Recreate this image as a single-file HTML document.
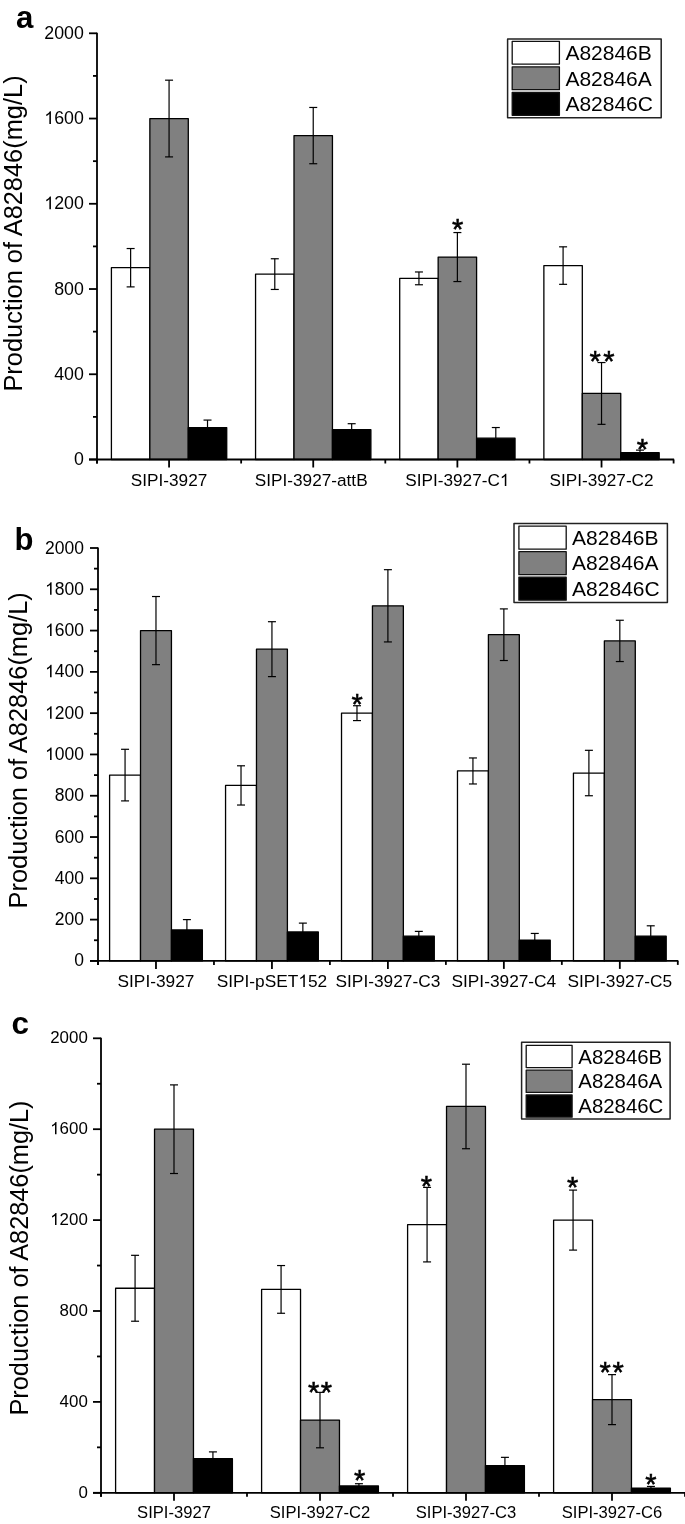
<!DOCTYPE html>
<html><head><meta charset="utf-8"><style>
html,body{margin:0;padding:0;background:#fff;}
body{width:685px;height:1524px;overflow:hidden;}
svg{display:block;}
svg{will-change:transform;}
text{font-family:"Liberation Sans", sans-serif;fill:#000;}
</style></head><body>
<svg width="685" height="1524" viewBox="0 0 685 1524">
<rect x="0" y="0" width="685" height="1524" fill="#fff"/>
<rect x="111.41" y="267.71" width="38.44" height="191.79" fill="#ffffff" stroke="#000" stroke-width="1.3" stroke-linejoin="round"/>
<rect x="149.85" y="118.54" width="38.44" height="340.96" fill="#808080" stroke="#000" stroke-width="1.3" stroke-linejoin="round"/>
<rect x="188.29" y="427.54" width="38.44" height="31.96" fill="#000000" stroke="#000" stroke-width="1.3" stroke-linejoin="round"/>
<line x1="130.63" y1="248.53" x2="130.63" y2="286.89" stroke="#000" stroke-width="1.2"/>
<line x1="126.63" y1="248.53" x2="134.63" y2="248.53" stroke="#000" stroke-width="1.2"/>
<line x1="126.63" y1="286.89" x2="134.63" y2="286.89" stroke="#000" stroke-width="1.2"/>
<line x1="169.07" y1="80.18" x2="169.07" y2="156.90" stroke="#000" stroke-width="1.2"/>
<line x1="165.07" y1="80.18" x2="173.07" y2="80.18" stroke="#000" stroke-width="1.2"/>
<line x1="165.07" y1="156.90" x2="173.07" y2="156.90" stroke="#000" stroke-width="1.2"/>
<line x1="207.51" y1="420.08" x2="207.51" y2="427.54" stroke="#000" stroke-width="1.2"/>
<line x1="203.51" y1="420.08" x2="211.51" y2="420.08" stroke="#000" stroke-width="1.2"/>
<text x="169.07" y="486.00" font-size="17.2" text-anchor="middle" font-weight="normal" >SIPI-3927</text>
<rect x="255.56" y="274.10" width="38.44" height="185.40" fill="#ffffff" stroke="#000" stroke-width="1.3" stroke-linejoin="round"/>
<rect x="294.00" y="135.59" width="38.44" height="323.91" fill="#808080" stroke="#000" stroke-width="1.3" stroke-linejoin="round"/>
<rect x="332.45" y="429.67" width="38.44" height="29.83" fill="#000000" stroke="#000" stroke-width="1.3" stroke-linejoin="round"/>
<line x1="274.79" y1="258.76" x2="274.79" y2="289.45" stroke="#000" stroke-width="1.2"/>
<line x1="270.79" y1="258.76" x2="278.79" y2="258.76" stroke="#000" stroke-width="1.2"/>
<line x1="270.79" y1="289.45" x2="278.79" y2="289.45" stroke="#000" stroke-width="1.2"/>
<line x1="313.23" y1="107.46" x2="313.23" y2="163.72" stroke="#000" stroke-width="1.2"/>
<line x1="309.23" y1="107.46" x2="317.23" y2="107.46" stroke="#000" stroke-width="1.2"/>
<line x1="309.23" y1="163.72" x2="317.23" y2="163.72" stroke="#000" stroke-width="1.2"/>
<line x1="351.67" y1="423.70" x2="351.67" y2="429.67" stroke="#000" stroke-width="1.2"/>
<line x1="347.67" y1="423.70" x2="355.67" y2="423.70" stroke="#000" stroke-width="1.2"/>
<text x="311.23" y="486.00" font-size="17.2" text-anchor="middle" font-weight="normal" >SIPI-3927-attB</text>
<rect x="399.71" y="278.37" width="38.44" height="181.13" fill="#ffffff" stroke="#000" stroke-width="1.3" stroke-linejoin="round"/>
<rect x="438.15" y="257.06" width="38.44" height="202.44" fill="#808080" stroke="#000" stroke-width="1.3" stroke-linejoin="round"/>
<rect x="476.60" y="438.19" width="38.44" height="21.31" fill="#000000" stroke="#000" stroke-width="1.3" stroke-linejoin="round"/>
<line x1="418.94" y1="271.97" x2="418.94" y2="284.76" stroke="#000" stroke-width="1.2"/>
<line x1="414.94" y1="271.97" x2="422.94" y2="271.97" stroke="#000" stroke-width="1.2"/>
<line x1="414.94" y1="284.76" x2="422.94" y2="284.76" stroke="#000" stroke-width="1.2"/>
<line x1="457.38" y1="232.55" x2="457.38" y2="281.56" stroke="#000" stroke-width="1.2"/>
<line x1="453.38" y1="232.55" x2="461.38" y2="232.55" stroke="#000" stroke-width="1.2"/>
<line x1="453.38" y1="281.56" x2="461.38" y2="281.56" stroke="#000" stroke-width="1.2"/>
<line x1="495.81" y1="427.54" x2="495.81" y2="438.19" stroke="#000" stroke-width="1.2"/>
<line x1="491.81" y1="427.54" x2="499.81" y2="427.54" stroke="#000" stroke-width="1.2"/>
<text x="457.38" y="486.00" font-size="17.2" text-anchor="middle" font-weight="normal" >SIPI-3927-C </text>
<path d="M763 0H583V1147Q518 1085 412 1023Q306 961 223 930V1104Q374 1175 487 1276Q600 1377 647 1466H763Z" transform="translate(499.91,486.00) scale(0.00840,-0.00840)" fill="#000"/>
<rect x="543.87" y="265.58" width="38.44" height="193.92" fill="#ffffff" stroke="#000" stroke-width="1.3" stroke-linejoin="round"/>
<rect x="582.31" y="393.44" width="38.44" height="66.06" fill="#808080" stroke="#000" stroke-width="1.3" stroke-linejoin="round"/>
<rect x="620.75" y="452.68" width="38.44" height="6.82" fill="#000000" stroke="#000" stroke-width="1.3" stroke-linejoin="round"/>
<line x1="563.09" y1="246.83" x2="563.09" y2="284.33" stroke="#000" stroke-width="1.2"/>
<line x1="559.09" y1="246.83" x2="567.09" y2="246.83" stroke="#000" stroke-width="1.2"/>
<line x1="559.09" y1="284.33" x2="567.09" y2="284.33" stroke="#000" stroke-width="1.2"/>
<line x1="601.53" y1="362.54" x2="601.53" y2="424.34" stroke="#000" stroke-width="1.2"/>
<line x1="597.53" y1="362.54" x2="605.53" y2="362.54" stroke="#000" stroke-width="1.2"/>
<line x1="597.53" y1="424.34" x2="605.53" y2="424.34" stroke="#000" stroke-width="1.2"/>
<line x1="639.97" y1="450.12" x2="639.97" y2="452.68" stroke="#000" stroke-width="1.2"/>
<line x1="635.97" y1="450.12" x2="643.97" y2="450.12" stroke="#000" stroke-width="1.2"/>
<text x="601.53" y="486.00" font-size="17.2" text-anchor="middle" font-weight="normal" >SIPI-3927-C2</text>
<text x="457.70" y="238.95" font-size="29" text-anchor="middle" font-weight="normal" stroke="#000" stroke-width="0.55">*</text>
<text x="595.20" y="370.75" font-size="29" text-anchor="middle" font-weight="normal" stroke="#000" stroke-width="0.55">*</text>
<text x="608.80" y="370.75" font-size="29" text-anchor="middle" font-weight="normal" stroke="#000" stroke-width="0.55">*</text>
<text x="642.40" y="459.05" font-size="29" text-anchor="middle" font-weight="normal" stroke="#000" stroke-width="0.55">*</text>
<line x1="97.00" y1="32.80" x2="97.00" y2="463.50" stroke="#000" stroke-width="1.8"/>
<line x1="89.00" y1="459.50" x2="674.10" y2="459.50" stroke="#000" stroke-width="1.8"/>
<line x1="89.00" y1="459.50" x2="97.00" y2="459.50" stroke="#000" stroke-width="1.8"/>
<text x="83.90" y="465.00" font-size="17.8" text-anchor="end" font-weight="normal" >0</text>
<line x1="93.00" y1="416.88" x2="97.00" y2="416.88" stroke="#000" stroke-width="1.8"/>
<line x1="89.00" y1="374.26" x2="97.00" y2="374.26" stroke="#000" stroke-width="1.8"/>
<text x="83.90" y="379.76" font-size="17.8" text-anchor="end" font-weight="normal" >400</text>
<line x1="93.00" y1="331.64" x2="97.00" y2="331.64" stroke="#000" stroke-width="1.8"/>
<line x1="89.00" y1="289.02" x2="97.00" y2="289.02" stroke="#000" stroke-width="1.8"/>
<text x="83.90" y="294.52" font-size="17.8" text-anchor="end" font-weight="normal" >800</text>
<line x1="93.00" y1="246.40" x2="97.00" y2="246.40" stroke="#000" stroke-width="1.8"/>
<line x1="89.00" y1="203.78" x2="97.00" y2="203.78" stroke="#000" stroke-width="1.8"/>
<text x="83.90" y="209.28" font-size="17.8" text-anchor="end" font-weight="normal" > 200</text>
<path d="M763 0H583V1147Q518 1085 412 1023Q306 961 223 930V1104Q374 1175 487 1276Q600 1377 647 1466H763Z" transform="translate(44.30,209.28) scale(0.00869,-0.00869)" fill="#000"/>
<line x1="93.00" y1="161.16" x2="97.00" y2="161.16" stroke="#000" stroke-width="1.8"/>
<line x1="89.00" y1="118.54" x2="97.00" y2="118.54" stroke="#000" stroke-width="1.8"/>
<text x="83.90" y="124.04" font-size="17.8" text-anchor="end" font-weight="normal" > 600</text>
<path d="M763 0H583V1147Q518 1085 412 1023Q306 961 223 930V1104Q374 1175 487 1276Q600 1377 647 1466H763Z" transform="translate(44.30,124.04) scale(0.00869,-0.00869)" fill="#000"/>
<line x1="93.00" y1="75.92" x2="97.00" y2="75.92" stroke="#000" stroke-width="1.8"/>
<line x1="89.00" y1="33.30" x2="97.00" y2="33.30" stroke="#000" stroke-width="1.8"/>
<text x="83.90" y="38.80" font-size="17.8" text-anchor="end" font-weight="normal" >2000</text>
<line x1="97.00" y1="459.50" x2="97.00" y2="463.50" stroke="#000" stroke-width="1.8"/>
<line x1="241.15" y1="459.50" x2="241.15" y2="463.50" stroke="#000" stroke-width="1.8"/>
<line x1="385.30" y1="459.50" x2="385.30" y2="463.50" stroke="#000" stroke-width="1.8"/>
<line x1="529.45" y1="459.50" x2="529.45" y2="463.50" stroke="#000" stroke-width="1.8"/>
<line x1="673.60" y1="459.50" x2="673.60" y2="463.50" stroke="#000" stroke-width="1.8"/>
<line x1="169.07" y1="459.50" x2="169.07" y2="467.50" stroke="#000" stroke-width="1.8"/>
<line x1="313.23" y1="459.50" x2="313.23" y2="467.50" stroke="#000" stroke-width="1.8"/>
<line x1="457.38" y1="459.50" x2="457.38" y2="467.50" stroke="#000" stroke-width="1.8"/>
<line x1="601.53" y1="459.50" x2="601.53" y2="467.50" stroke="#000" stroke-width="1.8"/>
<rect x="507.60" y="38.90" width="153.60" height="78.90" fill="#fff" stroke="#222" stroke-width="1.5" stroke-linejoin="round"/>
<rect x="512.20" y="41.30" width="47.20" height="22.80" fill="#ffffff" stroke="#111" stroke-width="1.3" stroke-linejoin="round"/>
<text x="565.40" y="59.90" font-size="21" text-anchor="start" font-weight="normal" >A82846B</text>
<rect x="512.20" y="66.90" width="47.20" height="22.80" fill="#808080" stroke="#111" stroke-width="1.3" stroke-linejoin="round"/>
<text x="565.40" y="85.50" font-size="21" text-anchor="start" font-weight="normal" >A82846A</text>
<rect x="512.20" y="92.50" width="47.20" height="22.80" fill="#000000" stroke="#111" stroke-width="1.3" stroke-linejoin="round"/>
<text x="565.40" y="111.10" font-size="21" text-anchor="start" font-weight="normal" >A82846C</text>
<text transform="translate(21.90,233.50) rotate(-90)" x="0" y="0" font-size="25.4" text-anchor="middle">Production of A82846(mg/L)</text>
<text x="16.00" y="28.20" font-size="31.2" text-anchor="start" font-weight="bold" >a</text>
<rect x="109.60" y="775.10" width="30.92" height="185.81" fill="#ffffff" stroke="#000" stroke-width="1.3" stroke-linejoin="round"/>
<rect x="140.52" y="630.58" width="30.92" height="330.32" fill="#808080" stroke="#000" stroke-width="1.3" stroke-linejoin="round"/>
<rect x="171.44" y="929.93" width="30.92" height="30.97" fill="#000000" stroke="#000" stroke-width="1.3" stroke-linejoin="round"/>
<line x1="125.06" y1="749.29" x2="125.06" y2="800.90" stroke="#000" stroke-width="1.2"/>
<line x1="121.06" y1="749.29" x2="129.06" y2="749.29" stroke="#000" stroke-width="1.2"/>
<line x1="121.06" y1="800.90" x2="129.06" y2="800.90" stroke="#000" stroke-width="1.2"/>
<line x1="155.98" y1="596.52" x2="155.98" y2="664.64" stroke="#000" stroke-width="1.2"/>
<line x1="151.98" y1="596.52" x2="159.98" y2="596.52" stroke="#000" stroke-width="1.2"/>
<line x1="151.98" y1="664.64" x2="159.98" y2="664.64" stroke="#000" stroke-width="1.2"/>
<line x1="186.90" y1="919.61" x2="186.90" y2="929.93" stroke="#000" stroke-width="1.2"/>
<line x1="182.90" y1="919.61" x2="190.90" y2="919.61" stroke="#000" stroke-width="1.2"/>
<text x="155.98" y="987.00" font-size="17.3" text-anchor="middle" font-weight="normal" >SIPI-3927</text>
<rect x="225.56" y="785.42" width="30.92" height="175.48" fill="#ffffff" stroke="#000" stroke-width="1.3" stroke-linejoin="round"/>
<rect x="256.48" y="649.16" width="30.92" height="311.74" fill="#808080" stroke="#000" stroke-width="1.3" stroke-linejoin="round"/>
<rect x="287.40" y="932.00" width="30.92" height="28.90" fill="#000000" stroke="#000" stroke-width="1.3" stroke-linejoin="round"/>
<line x1="241.02" y1="765.80" x2="241.02" y2="805.03" stroke="#000" stroke-width="1.2"/>
<line x1="237.02" y1="765.80" x2="245.02" y2="765.80" stroke="#000" stroke-width="1.2"/>
<line x1="237.02" y1="805.03" x2="245.02" y2="805.03" stroke="#000" stroke-width="1.2"/>
<line x1="271.94" y1="621.70" x2="271.94" y2="676.62" stroke="#000" stroke-width="1.2"/>
<line x1="267.94" y1="621.70" x2="275.94" y2="621.70" stroke="#000" stroke-width="1.2"/>
<line x1="267.94" y1="676.62" x2="275.94" y2="676.62" stroke="#000" stroke-width="1.2"/>
<line x1="302.86" y1="923.12" x2="302.86" y2="932.00" stroke="#000" stroke-width="1.2"/>
<line x1="298.86" y1="923.12" x2="306.86" y2="923.12" stroke="#000" stroke-width="1.2"/>
<text x="271.94" y="987.00" font-size="17.3" text-anchor="middle" font-weight="normal" >SIPI-pSET 52</text>
<path d="M763 0H583V1147Q518 1085 412 1023Q306 961 223 930V1104Q374 1175 487 1276Q600 1377 647 1466H763Z" transform="translate(298.37,987.00) scale(0.00845,-0.00845)" fill="#000"/>
<rect x="341.52" y="713.16" width="30.92" height="247.74" fill="#ffffff" stroke="#000" stroke-width="1.3" stroke-linejoin="round"/>
<rect x="372.44" y="605.81" width="30.92" height="355.09" fill="#808080" stroke="#000" stroke-width="1.3" stroke-linejoin="round"/>
<rect x="403.36" y="936.13" width="30.92" height="24.77" fill="#000000" stroke="#000" stroke-width="1.3" stroke-linejoin="round"/>
<line x1="356.98" y1="705.73" x2="356.98" y2="720.59" stroke="#000" stroke-width="1.2"/>
<line x1="352.98" y1="705.73" x2="360.98" y2="705.73" stroke="#000" stroke-width="1.2"/>
<line x1="352.98" y1="720.59" x2="360.98" y2="720.59" stroke="#000" stroke-width="1.2"/>
<line x1="387.90" y1="569.68" x2="387.90" y2="641.93" stroke="#000" stroke-width="1.2"/>
<line x1="383.90" y1="569.68" x2="391.90" y2="569.68" stroke="#000" stroke-width="1.2"/>
<line x1="383.90" y1="641.93" x2="391.90" y2="641.93" stroke="#000" stroke-width="1.2"/>
<line x1="418.82" y1="931.38" x2="418.82" y2="936.13" stroke="#000" stroke-width="1.2"/>
<line x1="414.82" y1="931.38" x2="422.82" y2="931.38" stroke="#000" stroke-width="1.2"/>
<text x="387.90" y="987.00" font-size="17.3" text-anchor="middle" font-weight="normal" >SIPI-3927-C3</text>
<rect x="457.48" y="770.97" width="30.92" height="189.93" fill="#ffffff" stroke="#000" stroke-width="1.3" stroke-linejoin="round"/>
<rect x="488.40" y="634.71" width="30.92" height="326.19" fill="#808080" stroke="#000" stroke-width="1.3" stroke-linejoin="round"/>
<rect x="519.32" y="940.25" width="30.92" height="20.64" fill="#000000" stroke="#000" stroke-width="1.3" stroke-linejoin="round"/>
<line x1="472.94" y1="757.96" x2="472.94" y2="783.97" stroke="#000" stroke-width="1.2"/>
<line x1="468.94" y1="757.96" x2="476.94" y2="757.96" stroke="#000" stroke-width="1.2"/>
<line x1="468.94" y1="783.97" x2="476.94" y2="783.97" stroke="#000" stroke-width="1.2"/>
<line x1="503.86" y1="608.90" x2="503.86" y2="660.52" stroke="#000" stroke-width="1.2"/>
<line x1="499.86" y1="608.90" x2="507.86" y2="608.90" stroke="#000" stroke-width="1.2"/>
<line x1="499.86" y1="660.52" x2="507.86" y2="660.52" stroke="#000" stroke-width="1.2"/>
<line x1="534.78" y1="933.44" x2="534.78" y2="940.25" stroke="#000" stroke-width="1.2"/>
<line x1="530.78" y1="933.44" x2="538.78" y2="933.44" stroke="#000" stroke-width="1.2"/>
<text x="503.86" y="987.00" font-size="17.3" text-anchor="middle" font-weight="normal" >SIPI-3927-C4</text>
<rect x="573.44" y="773.03" width="30.92" height="187.87" fill="#ffffff" stroke="#000" stroke-width="1.3" stroke-linejoin="round"/>
<rect x="604.36" y="640.90" width="30.92" height="320.00" fill="#808080" stroke="#000" stroke-width="1.3" stroke-linejoin="round"/>
<rect x="635.28" y="936.13" width="30.92" height="24.77" fill="#000000" stroke="#000" stroke-width="1.3" stroke-linejoin="round"/>
<line x1="588.90" y1="750.32" x2="588.90" y2="795.74" stroke="#000" stroke-width="1.2"/>
<line x1="584.90" y1="750.32" x2="592.90" y2="750.32" stroke="#000" stroke-width="1.2"/>
<line x1="584.90" y1="795.74" x2="592.90" y2="795.74" stroke="#000" stroke-width="1.2"/>
<line x1="619.82" y1="620.26" x2="619.82" y2="661.55" stroke="#000" stroke-width="1.2"/>
<line x1="615.82" y1="620.26" x2="623.82" y2="620.26" stroke="#000" stroke-width="1.2"/>
<line x1="615.82" y1="661.55" x2="623.82" y2="661.55" stroke="#000" stroke-width="1.2"/>
<line x1="650.74" y1="925.80" x2="650.74" y2="936.13" stroke="#000" stroke-width="1.2"/>
<line x1="646.74" y1="925.80" x2="654.74" y2="925.80" stroke="#000" stroke-width="1.2"/>
<text x="619.82" y="987.00" font-size="17.3" text-anchor="middle" font-weight="normal" >SIPI-3927-C5</text>
<text x="357.05" y="713.95" font-size="29" text-anchor="middle" font-weight="normal" stroke="#000" stroke-width="0.55">*</text>
<line x1="98.00" y1="547.50" x2="98.00" y2="964.90" stroke="#000" stroke-width="1.8"/>
<line x1="90.00" y1="960.90" x2="678.30" y2="960.90" stroke="#000" stroke-width="1.8"/>
<line x1="90.00" y1="960.90" x2="98.00" y2="960.90" stroke="#000" stroke-width="1.8"/>
<text x="84.00" y="966.40" font-size="17.5" text-anchor="end" font-weight="normal" >0</text>
<line x1="94.00" y1="940.25" x2="98.00" y2="940.25" stroke="#000" stroke-width="1.8"/>
<line x1="90.00" y1="919.61" x2="98.00" y2="919.61" stroke="#000" stroke-width="1.8"/>
<text x="84.00" y="925.11" font-size="17.5" text-anchor="end" font-weight="normal" >200</text>
<line x1="94.00" y1="898.97" x2="98.00" y2="898.97" stroke="#000" stroke-width="1.8"/>
<line x1="90.00" y1="878.32" x2="98.00" y2="878.32" stroke="#000" stroke-width="1.8"/>
<text x="84.00" y="883.82" font-size="17.5" text-anchor="end" font-weight="normal" >400</text>
<line x1="94.00" y1="857.67" x2="98.00" y2="857.67" stroke="#000" stroke-width="1.8"/>
<line x1="90.00" y1="837.03" x2="98.00" y2="837.03" stroke="#000" stroke-width="1.8"/>
<text x="84.00" y="842.53" font-size="17.5" text-anchor="end" font-weight="normal" >600</text>
<line x1="94.00" y1="816.38" x2="98.00" y2="816.38" stroke="#000" stroke-width="1.8"/>
<line x1="90.00" y1="795.74" x2="98.00" y2="795.74" stroke="#000" stroke-width="1.8"/>
<text x="84.00" y="801.24" font-size="17.5" text-anchor="end" font-weight="normal" >800</text>
<line x1="94.00" y1="775.10" x2="98.00" y2="775.10" stroke="#000" stroke-width="1.8"/>
<line x1="90.00" y1="754.45" x2="98.00" y2="754.45" stroke="#000" stroke-width="1.8"/>
<text x="84.00" y="759.95" font-size="17.5" text-anchor="end" font-weight="normal" > 000</text>
<path d="M763 0H583V1147Q518 1085 412 1023Q306 961 223 930V1104Q374 1175 487 1276Q600 1377 647 1466H763Z" transform="translate(45.07,759.95) scale(0.00854,-0.00854)" fill="#000"/>
<line x1="94.00" y1="733.80" x2="98.00" y2="733.80" stroke="#000" stroke-width="1.8"/>
<line x1="90.00" y1="713.16" x2="98.00" y2="713.16" stroke="#000" stroke-width="1.8"/>
<text x="84.00" y="718.66" font-size="17.5" text-anchor="end" font-weight="normal" > 200</text>
<path d="M763 0H583V1147Q518 1085 412 1023Q306 961 223 930V1104Q374 1175 487 1276Q600 1377 647 1466H763Z" transform="translate(45.07,718.66) scale(0.00854,-0.00854)" fill="#000"/>
<line x1="94.00" y1="692.51" x2="98.00" y2="692.51" stroke="#000" stroke-width="1.8"/>
<line x1="90.00" y1="671.87" x2="98.00" y2="671.87" stroke="#000" stroke-width="1.8"/>
<text x="84.00" y="677.37" font-size="17.5" text-anchor="end" font-weight="normal" > 400</text>
<path d="M763 0H583V1147Q518 1085 412 1023Q306 961 223 930V1104Q374 1175 487 1276Q600 1377 647 1466H763Z" transform="translate(45.07,677.37) scale(0.00854,-0.00854)" fill="#000"/>
<line x1="94.00" y1="651.22" x2="98.00" y2="651.22" stroke="#000" stroke-width="1.8"/>
<line x1="90.00" y1="630.58" x2="98.00" y2="630.58" stroke="#000" stroke-width="1.8"/>
<text x="84.00" y="636.08" font-size="17.5" text-anchor="end" font-weight="normal" > 600</text>
<path d="M763 0H583V1147Q518 1085 412 1023Q306 961 223 930V1104Q374 1175 487 1276Q600 1377 647 1466H763Z" transform="translate(45.07,636.08) scale(0.00854,-0.00854)" fill="#000"/>
<line x1="94.00" y1="609.93" x2="98.00" y2="609.93" stroke="#000" stroke-width="1.8"/>
<line x1="90.00" y1="589.29" x2="98.00" y2="589.29" stroke="#000" stroke-width="1.8"/>
<text x="84.00" y="594.79" font-size="17.5" text-anchor="end" font-weight="normal" > 800</text>
<path d="M763 0H583V1147Q518 1085 412 1023Q306 961 223 930V1104Q374 1175 487 1276Q600 1377 647 1466H763Z" transform="translate(45.07,594.79) scale(0.00854,-0.00854)" fill="#000"/>
<line x1="94.00" y1="568.64" x2="98.00" y2="568.64" stroke="#000" stroke-width="1.8"/>
<line x1="90.00" y1="548.00" x2="98.00" y2="548.00" stroke="#000" stroke-width="1.8"/>
<text x="84.00" y="553.50" font-size="17.5" text-anchor="end" font-weight="normal" >2000</text>
<line x1="98.00" y1="960.90" x2="98.00" y2="964.90" stroke="#000" stroke-width="1.8"/>
<line x1="213.96" y1="960.90" x2="213.96" y2="964.90" stroke="#000" stroke-width="1.8"/>
<line x1="329.92" y1="960.90" x2="329.92" y2="964.90" stroke="#000" stroke-width="1.8"/>
<line x1="445.88" y1="960.90" x2="445.88" y2="964.90" stroke="#000" stroke-width="1.8"/>
<line x1="561.84" y1="960.90" x2="561.84" y2="964.90" stroke="#000" stroke-width="1.8"/>
<line x1="677.80" y1="960.90" x2="677.80" y2="964.90" stroke="#000" stroke-width="1.8"/>
<line x1="155.98" y1="960.90" x2="155.98" y2="968.90" stroke="#000" stroke-width="1.8"/>
<line x1="271.94" y1="960.90" x2="271.94" y2="968.90" stroke="#000" stroke-width="1.8"/>
<line x1="387.90" y1="960.90" x2="387.90" y2="968.90" stroke="#000" stroke-width="1.8"/>
<line x1="503.86" y1="960.90" x2="503.86" y2="968.90" stroke="#000" stroke-width="1.8"/>
<line x1="619.82" y1="960.90" x2="619.82" y2="968.90" stroke="#000" stroke-width="1.8"/>
<rect x="514.00" y="523.50" width="153.40" height="79.10" fill="#fff" stroke="#222" stroke-width="1.5" stroke-linejoin="round"/>
<rect x="518.90" y="526.20" width="47.30" height="23.00" fill="#ffffff" stroke="#111" stroke-width="1.3" stroke-linejoin="round"/>
<text x="572.10" y="544.90" font-size="21" text-anchor="start" font-weight="normal" >A82846B</text>
<rect x="518.90" y="551.70" width="47.30" height="23.00" fill="#808080" stroke="#111" stroke-width="1.3" stroke-linejoin="round"/>
<text x="572.10" y="570.40" font-size="21" text-anchor="start" font-weight="normal" >A82846A</text>
<rect x="518.90" y="577.20" width="47.30" height="23.00" fill="#000000" stroke="#111" stroke-width="1.3" stroke-linejoin="round"/>
<text x="572.10" y="595.90" font-size="21" text-anchor="start" font-weight="normal" >A82846C</text>
<text transform="translate(27.00,750.35) rotate(-90)" x="0" y="0" font-size="25.4" text-anchor="middle">Production of A82846(mg/L)</text>
<text x="14.50" y="550.00" font-size="31" text-anchor="start" font-weight="bold" >b</text>
<rect x="115.60" y="1288.27" width="38.93" height="204.53" fill="#ffffff" stroke="#000" stroke-width="1.3" stroke-linejoin="round"/>
<rect x="154.53" y="1129.20" width="38.93" height="363.60" fill="#808080" stroke="#000" stroke-width="1.3" stroke-linejoin="round"/>
<rect x="193.47" y="1458.71" width="38.93" height="34.09" fill="#000000" stroke="#000" stroke-width="1.3" stroke-linejoin="round"/>
<line x1="135.07" y1="1255.32" x2="135.07" y2="1321.23" stroke="#000" stroke-width="1.2"/>
<line x1="131.07" y1="1255.32" x2="139.07" y2="1255.32" stroke="#000" stroke-width="1.2"/>
<line x1="131.07" y1="1321.23" x2="139.07" y2="1321.23" stroke="#000" stroke-width="1.2"/>
<line x1="174.00" y1="1084.89" x2="174.00" y2="1173.51" stroke="#000" stroke-width="1.2"/>
<line x1="170.00" y1="1084.89" x2="178.00" y2="1084.89" stroke="#000" stroke-width="1.2"/>
<line x1="170.00" y1="1173.51" x2="178.00" y2="1173.51" stroke="#000" stroke-width="1.2"/>
<line x1="212.93" y1="1451.89" x2="212.93" y2="1458.71" stroke="#000" stroke-width="1.2"/>
<line x1="208.93" y1="1451.89" x2="216.93" y2="1451.89" stroke="#000" stroke-width="1.2"/>
<text x="174.00" y="1518.00" font-size="16.6" text-anchor="middle" font-weight="normal" >SIPI-3927</text>
<rect x="261.60" y="1289.41" width="38.93" height="203.39" fill="#ffffff" stroke="#000" stroke-width="1.3" stroke-linejoin="round"/>
<rect x="300.53" y="1420.08" width="38.93" height="72.72" fill="#808080" stroke="#000" stroke-width="1.3" stroke-linejoin="round"/>
<rect x="339.47" y="1485.98" width="38.93" height="6.82" fill="#000000" stroke="#000" stroke-width="1.3" stroke-linejoin="round"/>
<line x1="281.07" y1="1265.55" x2="281.07" y2="1313.27" stroke="#000" stroke-width="1.2"/>
<line x1="277.07" y1="1265.55" x2="285.07" y2="1265.55" stroke="#000" stroke-width="1.2"/>
<line x1="277.07" y1="1313.27" x2="285.07" y2="1313.27" stroke="#000" stroke-width="1.2"/>
<line x1="320.00" y1="1392.36" x2="320.00" y2="1447.80" stroke="#000" stroke-width="1.2"/>
<line x1="316.00" y1="1392.36" x2="324.00" y2="1392.36" stroke="#000" stroke-width="1.2"/>
<line x1="316.00" y1="1447.80" x2="324.00" y2="1447.80" stroke="#000" stroke-width="1.2"/>
<line x1="358.93" y1="1483.71" x2="358.93" y2="1485.98" stroke="#000" stroke-width="1.2"/>
<line x1="354.93" y1="1483.71" x2="362.93" y2="1483.71" stroke="#000" stroke-width="1.2"/>
<text x="320.00" y="1518.00" font-size="16.6" text-anchor="middle" font-weight="normal" >SIPI-3927-C2</text>
<rect x="407.60" y="1224.64" width="38.93" height="268.16" fill="#ffffff" stroke="#000" stroke-width="1.3" stroke-linejoin="round"/>
<rect x="446.53" y="1106.47" width="38.93" height="386.32" fill="#808080" stroke="#000" stroke-width="1.3" stroke-linejoin="round"/>
<rect x="485.47" y="1465.53" width="38.93" height="27.27" fill="#000000" stroke="#000" stroke-width="1.3" stroke-linejoin="round"/>
<line x1="427.07" y1="1187.38" x2="427.07" y2="1261.91" stroke="#000" stroke-width="1.2"/>
<line x1="423.07" y1="1187.38" x2="431.07" y2="1187.38" stroke="#000" stroke-width="1.2"/>
<line x1="423.07" y1="1261.91" x2="431.07" y2="1261.91" stroke="#000" stroke-width="1.2"/>
<line x1="466.00" y1="1064.21" x2="466.00" y2="1148.74" stroke="#000" stroke-width="1.2"/>
<line x1="462.00" y1="1064.21" x2="470.00" y2="1064.21" stroke="#000" stroke-width="1.2"/>
<line x1="462.00" y1="1148.74" x2="470.00" y2="1148.74" stroke="#000" stroke-width="1.2"/>
<line x1="504.93" y1="1457.35" x2="504.93" y2="1465.53" stroke="#000" stroke-width="1.2"/>
<line x1="500.93" y1="1457.35" x2="508.93" y2="1457.35" stroke="#000" stroke-width="1.2"/>
<text x="466.00" y="1518.00" font-size="16.6" text-anchor="middle" font-weight="normal" >SIPI-3927-C3</text>
<rect x="553.60" y="1220.10" width="38.93" height="272.70" fill="#ffffff" stroke="#000" stroke-width="1.3" stroke-linejoin="round"/>
<rect x="592.53" y="1399.63" width="38.93" height="93.17" fill="#808080" stroke="#000" stroke-width="1.3" stroke-linejoin="round"/>
<rect x="631.47" y="1488.25" width="38.93" height="4.54" fill="#000000" stroke="#000" stroke-width="1.3" stroke-linejoin="round"/>
<line x1="573.07" y1="1190.10" x2="573.07" y2="1250.10" stroke="#000" stroke-width="1.2"/>
<line x1="569.07" y1="1190.10" x2="577.07" y2="1190.10" stroke="#000" stroke-width="1.2"/>
<line x1="569.07" y1="1250.10" x2="577.07" y2="1250.10" stroke="#000" stroke-width="1.2"/>
<line x1="612.00" y1="1374.63" x2="612.00" y2="1424.62" stroke="#000" stroke-width="1.2"/>
<line x1="608.00" y1="1374.63" x2="616.00" y2="1374.63" stroke="#000" stroke-width="1.2"/>
<line x1="608.00" y1="1424.62" x2="616.00" y2="1424.62" stroke="#000" stroke-width="1.2"/>
<line x1="650.93" y1="1486.44" x2="650.93" y2="1488.25" stroke="#000" stroke-width="1.2"/>
<line x1="646.93" y1="1486.44" x2="654.93" y2="1486.44" stroke="#000" stroke-width="1.2"/>
<text x="612.00" y="1518.00" font-size="16.6" text-anchor="middle" font-weight="normal" >SIPI-3927-C6</text>
<text x="313.60" y="1401.65" font-size="29" text-anchor="middle" font-weight="normal" stroke="#000" stroke-width="0.55">*</text>
<text x="326.50" y="1401.65" font-size="29" text-anchor="middle" font-weight="normal" stroke="#000" stroke-width="0.55">*</text>
<text x="359.70" y="1489.95" font-size="29" text-anchor="middle" font-weight="normal" stroke="#000" stroke-width="0.55">*</text>
<text x="426.50" y="1196.35" font-size="29" text-anchor="middle" font-weight="normal" stroke="#000" stroke-width="0.55">*</text>
<text x="572.65" y="1197.25" font-size="29" text-anchor="middle" font-weight="normal" stroke="#000" stroke-width="0.55">*</text>
<text x="605.10" y="1382.25" font-size="29" text-anchor="middle" font-weight="normal" stroke="#000" stroke-width="0.55">*</text>
<text x="618.20" y="1382.25" font-size="29" text-anchor="middle" font-weight="normal" stroke="#000" stroke-width="0.55">*</text>
<text x="650.90" y="1494.25" font-size="29" text-anchor="middle" font-weight="normal" stroke="#000" stroke-width="0.55">*</text>
<line x1="101.00" y1="1037.80" x2="101.00" y2="1496.80" stroke="#000" stroke-width="1.8"/>
<line x1="93.00" y1="1492.80" x2="685.50" y2="1492.80" stroke="#000" stroke-width="1.8"/>
<line x1="93.00" y1="1492.80" x2="101.00" y2="1492.80" stroke="#000" stroke-width="1.8"/>
<text x="87.80" y="1497.80" font-size="16.9" text-anchor="end" font-weight="normal" >0</text>
<line x1="97.00" y1="1447.35" x2="101.00" y2="1447.35" stroke="#000" stroke-width="1.8"/>
<line x1="93.00" y1="1401.90" x2="101.00" y2="1401.90" stroke="#000" stroke-width="1.8"/>
<text x="87.80" y="1406.90" font-size="16.9" text-anchor="end" font-weight="normal" >400</text>
<line x1="97.00" y1="1356.45" x2="101.00" y2="1356.45" stroke="#000" stroke-width="1.8"/>
<line x1="93.00" y1="1311.00" x2="101.00" y2="1311.00" stroke="#000" stroke-width="1.8"/>
<text x="87.80" y="1316.00" font-size="16.9" text-anchor="end" font-weight="normal" >800</text>
<line x1="97.00" y1="1265.55" x2="101.00" y2="1265.55" stroke="#000" stroke-width="1.8"/>
<line x1="93.00" y1="1220.10" x2="101.00" y2="1220.10" stroke="#000" stroke-width="1.8"/>
<text x="87.80" y="1225.10" font-size="16.9" text-anchor="end" font-weight="normal" > 200</text>
<path d="M763 0H583V1147Q518 1085 412 1023Q306 961 223 930V1104Q374 1175 487 1276Q600 1377 647 1466H763Z" transform="translate(50.20,1225.10) scale(0.00825,-0.00825)" fill="#000"/>
<line x1="97.00" y1="1174.65" x2="101.00" y2="1174.65" stroke="#000" stroke-width="1.8"/>
<line x1="93.00" y1="1129.20" x2="101.00" y2="1129.20" stroke="#000" stroke-width="1.8"/>
<text x="87.80" y="1134.20" font-size="16.9" text-anchor="end" font-weight="normal" > 600</text>
<path d="M763 0H583V1147Q518 1085 412 1023Q306 961 223 930V1104Q374 1175 487 1276Q600 1377 647 1466H763Z" transform="translate(50.20,1134.20) scale(0.00825,-0.00825)" fill="#000"/>
<line x1="97.00" y1="1083.75" x2="101.00" y2="1083.75" stroke="#000" stroke-width="1.8"/>
<line x1="93.00" y1="1038.30" x2="101.00" y2="1038.30" stroke="#000" stroke-width="1.8"/>
<text x="87.80" y="1043.30" font-size="16.9" text-anchor="end" font-weight="normal" >2000</text>
<line x1="101.00" y1="1492.80" x2="101.00" y2="1496.80" stroke="#000" stroke-width="1.8"/>
<line x1="247.00" y1="1492.80" x2="247.00" y2="1496.80" stroke="#000" stroke-width="1.8"/>
<line x1="393.00" y1="1492.80" x2="393.00" y2="1496.80" stroke="#000" stroke-width="1.8"/>
<line x1="539.00" y1="1492.80" x2="539.00" y2="1496.80" stroke="#000" stroke-width="1.8"/>
<line x1="685.00" y1="1492.80" x2="685.00" y2="1496.80" stroke="#000" stroke-width="1.8"/>
<line x1="174.00" y1="1492.80" x2="174.00" y2="1500.80" stroke="#000" stroke-width="1.8"/>
<line x1="320.00" y1="1492.80" x2="320.00" y2="1500.80" stroke="#000" stroke-width="1.8"/>
<line x1="466.00" y1="1492.80" x2="466.00" y2="1500.80" stroke="#000" stroke-width="1.8"/>
<line x1="612.00" y1="1492.80" x2="612.00" y2="1500.80" stroke="#000" stroke-width="1.8"/>
<rect x="521.60" y="1042.20" width="148.50" height="76.90" fill="#fff" stroke="#222" stroke-width="1.5" stroke-linejoin="round"/>
<rect x="526.20" y="1045.40" width="45.90" height="22.20" fill="#ffffff" stroke="#111" stroke-width="1.3" stroke-linejoin="round"/>
<text x="578.30" y="1063.50" font-size="20.4" text-anchor="start" font-weight="normal" >A82846B</text>
<rect x="526.20" y="1070.20" width="45.90" height="22.20" fill="#808080" stroke="#111" stroke-width="1.3" stroke-linejoin="round"/>
<text x="578.30" y="1088.30" font-size="20.4" text-anchor="start" font-weight="normal" >A82846A</text>
<rect x="526.20" y="1095.00" width="45.90" height="22.20" fill="#000000" stroke="#111" stroke-width="1.3" stroke-linejoin="round"/>
<text x="578.30" y="1113.10" font-size="20.4" text-anchor="start" font-weight="normal" >A82846C</text>
<text transform="translate(27.70,1258.00) rotate(-90)" x="0" y="0" font-size="25.3" text-anchor="middle">Production of A82846(mg/L)</text>
<text x="11.50" y="1034.00" font-size="31.5" text-anchor="start" font-weight="bold" >c</text>
</svg>
</body></html>
